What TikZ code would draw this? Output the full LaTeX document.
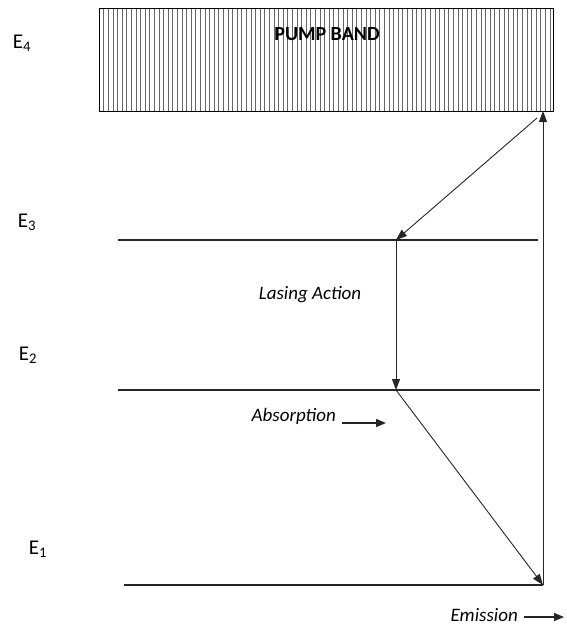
\documentclass[tikz,border=0pt]{standalone}
\usepackage{fontspec}
\setmainfont{Carlito}
\usetikzlibrary{arrows.meta}
\begin{document}
\begin{tikzpicture}[x=1pt,y=-1pt,
  level/.style={line width=1.1pt, draw=black!85},
  trans/.style={line width=0.9pt, draw=black!85, -{Triangle[length=11pt,width=8pt]}},
  pointer/.style={line width=1.4pt, draw=black!85, -{Triangle[length=10pt,width=8pt]}},
  lbl/.style={font=\fontsize{21}{24}\selectfont, inner sep=0pt},
  note/.style={font=\fontsize{19}{22}\selectfont\itshape, inner sep=0pt},
  hatch/.style={line width=0.55pt, draw=black!60}]
\useasboundingbox (0,0) rectangle (566,630);

% pump band with vertical hatching
\foreach \x in {103.6,108.2,...,551} \draw[hatch] (\x,8) -- (\x,111);
\draw[line width=1pt] (99,8) rectangle (553,111);
\node[font=\fontsize{20}{24}\selectfont\bfseries, inner sep=0pt] (band) at (327,34) {PUMP BAND};

% energy labels
\node[lbl] (e4) at (22,43) {E\textsubscript{4}};
\node[lbl] (e3) at (27,222) {E\textsubscript{3}};
\node[lbl] (e2) at (28,355) {E\textsubscript{2}};
\node[lbl] (e1) at (38,549) {E\textsubscript{1}};

% level end points
\coordinate (l3a) at (118,240);
\coordinate (l3b) at (538,240);
\coordinate (l2a) at (118,390);
\coordinate (l2b) at (540,390);
\coordinate (l1a) at (124,585);
\coordinate (l1b) at (543,585);
\coordinate (top) at (543,111);
\coordinate (d3) at (396,240);
\coordinate (d2) at (396,390);
\coordinate (dtop) at (537,118);

% energy levels
\draw[level] (l3a) -- (l3b);
\draw[level] (l2a) -- (l2b);
\draw[level] (l1a) -- (l1b);

% transitions
\draw[trans] (l1b) -- (top);
\draw[trans] (dtop) -- (d3);
\draw[trans] (d3) -- (d2);
\draw[trans] (d2) -- (l1b);

% annotations
\node[note] (lasing) at (310,295) {Lasing Action};
\node[note, anchor=east] (abs) at (336,416) {Absorption};
\coordinate (absstart) at (342,423);
\coordinate (absend) at (386,423);
\draw[pointer] (absstart) -- (absend);
\node[note, anchor=east] (emi) at (518,615) {Emission};
\coordinate (emistart) at (524,617);
\coordinate (emiend) at (564,617);
\draw[pointer] (emistart) -- (emiend);
\end{tikzpicture}
\end{document}
